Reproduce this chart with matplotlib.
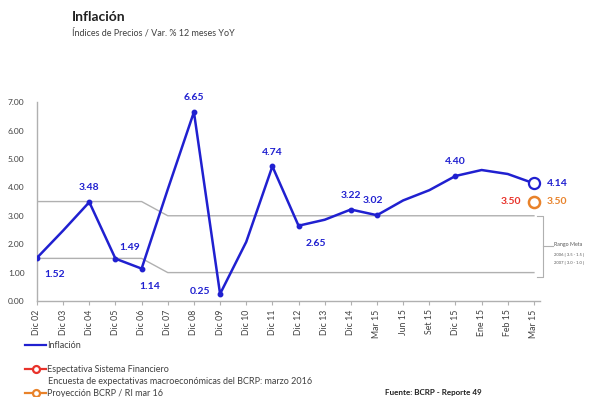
import matplotlib
matplotlib.use("Agg")
import matplotlib.pyplot as plt

plt.rcParams["font.family"] = ["Lato", "DejaVu Sans"]

# Serie de inflación anual (Var. % 12 meses)
periodos = ["Dic 02", "Dic 03", "Dic 04", "Dic 05", "Dic 06", "Dic 07", "Dic 08",
            "Dic 09", "Dic 10", "Dic 11", "Dic 12", "Dic 13", "Dic 14", "Mar 15",
            "Jun 15", "Set 15", "Dic 15", "Ene 15", "Feb 15", "Mar 15"]
inflacion = [1.52, 2.48, 3.48, 1.49, 1.14, 3.93, 6.65, 0.25, 2.08, 4.74,
             2.65, 2.86, 3.22, 3.02, 3.54, 3.90, 4.40, 4.61, 4.47, 4.14]
etiquetados = [0, 2, 3, 4, 6, 7, 9, 10, 12, 13, 16]

# Rango meta del BCRP
meta_sup = [3.5, 3.5, 3.5, 3.5, 3.5] + [3.0] * 15
meta_inf = [1.5, 1.5, 1.5, 1.5, 1.5] + [1.0] * 15

expectativa_sf = 3.50
proyeccion_bcrp = 3.50

AZUL = "#2020d0"
ROJO = "#e8322a"
NARANJA = "#e8822a"
GRIS = "#b0b0b0"

fig = plt.figure(figsize=(5.91, 3.97), dpi=100)
ax = fig.add_axes([0.0626, 0.2418, 0.851, 0.501])

x = list(range(len(periodos)))
ax.plot(x, meta_sup, color=GRIS, lw=1.0, zorder=1)
ax.plot(x, meta_inf, color=GRIS, lw=1.0, zorder=1)
ax.plot(x, inflacion, color=AZUL, lw=1.8, marker="o", ms=3.2,
        markevery=etiquetados, zorder=3)

ultimo = x[-1]
ax.plot([ultimo], [inflacion[-1]], marker="o", ms=8, mfc="white", mec=AZUL,
        mew=1.6, ls="none", zorder=4, clip_on=False)
ax.plot([ultimo], [proyeccion_bcrp], marker="o", ms=8, mfc="white", mec=NARANJA,
        mew=1.8, ls="none", zorder=4, clip_on=False)

# Etiquetas de valores: (dx, dy, alineación horizontal)
desp = {0: (5, -12, "left"), 2: (0, 7, "center"), 3: (3, 5, "left"),
        4: (6, -13, "center"), 6: (0, 7, "center"), 7: (-7, 2, "right"),
        9: (0, 7, "center"), 10: (5, -13, "left"), 12: (0, 7, "center"),
        13: (-3, 7, "center"), 16: (0, 7, "center")}
for i in etiquetados:
    dx, dy, ha = desp[i]
    ax.annotate(f"{inflacion[i]:.2f}", (x[i], inflacion[i]), xytext=(dx, dy),
                textcoords="offset points", ha=ha,
                va="bottom" if dy > 2 else "center",
                color=AZUL, fontsize=7.5, fontweight="bold",
                annotation_clip=False)

ax.annotate(f"{inflacion[-1]:.2f}", (ultimo, inflacion[-1]), xytext=(9, 0),
            textcoords="offset points", ha="left", va="center", color=AZUL,
            fontsize=7.5, fontweight="bold", annotation_clip=False)
ax.annotate(f"{expectativa_sf:.2f}", (ultimo, proyeccion_bcrp), xytext=(-9, 0),
            textcoords="offset points", ha="right", va="center", color=ROJO,
            fontsize=7.5, fontweight="bold", annotation_clip=False)
ax.annotate(f"{proyeccion_bcrp:.2f}", (ultimo, proyeccion_bcrp), xytext=(9, 0),
            textcoords="offset points", ha="left", va="center", color=NARANJA,
            fontsize=7.5, fontweight="bold", annotation_clip=False)

# Llave del rango meta
bx = 19.33
ax.plot([bx - 0.2, bx, bx, bx - 0.2], [3.0, 3.0, 0.85, 0.85], color=GRIS,
        lw=0.8, clip_on=False)
ax.plot([bx, bx + 0.4], [1.95, 1.95], color=GRIS, lw=0.8, clip_on=False)
ax.text(bx + 0.42, 1.98, "Rango Meta", fontsize=3.8, color="#555555",
        va="center", ha="left")
ax.text(bx + 0.42, 1.65, "2006 [ 3.5 - 1.5 ]", fontsize=3.0, color="#555555",
        va="center", ha="left")
ax.text(bx + 0.42, 1.35, "2007 [ 3.0 - 1.0 ]", fontsize=3.0, color="#555555",
        va="center", ha="left")

ax.set_xlim(0, 19.23)
ax.set_ylim(0, 7.0)
ax.set_yticks([0, 1, 2, 3, 4, 5, 6, 7])
ax.set_yticklabels([f"{v:.2f}" for v in range(8)])
ax.set_xticks(x)
ax.set_xticklabels(periodos, rotation=90)
ax.tick_params(axis="y", length=0, labelsize=6, labelcolor="#404040", pad=9)
ax.tick_params(axis="x", length=3, color=GRIS, labelsize=6.3,
               labelcolor="#404040", pad=3)
for lado in ("top", "right"):
    ax.spines[lado].set_visible(False)
for lado in ("left", "bottom"):
    ax.spines[lado].set_color(GRIS)
    ax.spines[lado].set_linewidth(1.0)

# Títulos
fig.text(72 / 591, 1 - 17 / 397, "Inflación", fontsize=10, fontweight="bold",
         color="#202020", va="center")
fig.text(72 / 591, 1 - 33 / 397, "Índices de Precios / Var. % 12 meses YoY",
         fontsize=6.5, color="#404040", va="center")

# Leyenda
fig.add_artist(plt.Line2D([25 / 591, 46 / 591], [1 - 345 / 397] * 2,
                          color=AZUL, lw=1.6))
for yy, col in ((369, ROJO), (393, NARANJA)):
    yf = 1 - yy / 397
    fig.add_artist(plt.Line2D([25 / 591, 46 / 591], [yf, yf], color=col, lw=1.6))
    fig.add_artist(plt.Line2D([35.5 / 591], [yf], color=col, marker="o", ms=5,
                              mfc="white", mec=col, mew=1.6))

fig.text(47 / 591, 1 - 345 / 397, "Inflación", fontsize=6.5, color="#404040",
         va="center")
fig.text(47 / 591, 1 - 369 / 397, "Espectativa Sistema Financiero",
         fontsize=6.5, color="#404040", va="center")
fig.text(48 / 591, 1 - 381 / 397,
         "Encuesta de expectativas macroeconómicas del BCRP: marzo 2016",
         fontsize=6.5, color="#404040", va="center")
fig.text(47 / 591, 1 - 393 / 397, "Proyección BCRP / RI mar 16",
         fontsize=6.5, color="#404040", va="center")
fig.text(385 / 591, 1 - 393 / 397, "Fuente: BCRP - Reporte 49", fontsize=5.8,
         fontweight="bold", color="#202020", va="center")

fig.savefig("out.png", dpi=100, facecolor="white")
